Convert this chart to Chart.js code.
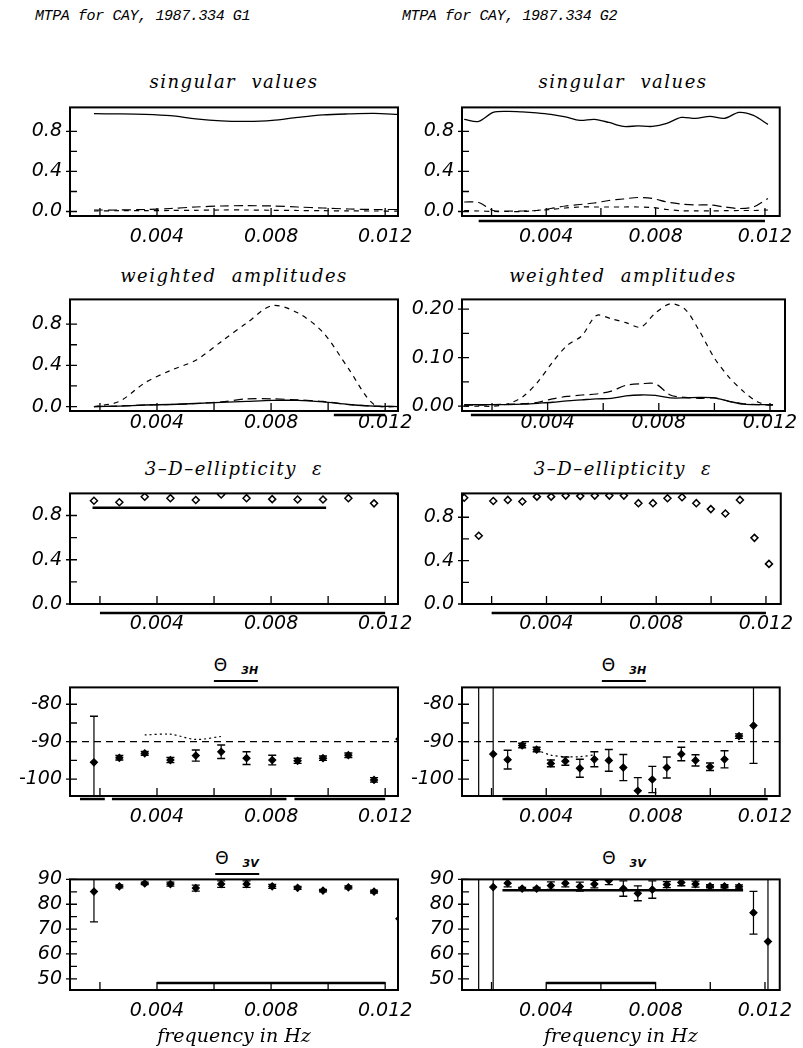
<!DOCTYPE html>
<html>
<head>
<meta charset="utf-8">
<title>MTPA for CAY, 1987.334</title>
<script src="https://cdn.jsdelivr.net/npm/chart.js@4.4.1/dist/chart.umd.min.js"></script>
<style>
  html, body { margin: 0; padding: 0; background: #fff; }
  body { position: relative; width: 803px; height: 1048px; overflow: hidden; }
  .head { position: absolute; top: 8px; font: italic 15px "Liberation Mono", monospace; letter-spacing: -0.4px; line-height: 18px; white-space: pre; }
  .ttl { position: absolute; transform: translateX(-50%); white-space: nowrap;
         font: italic 18px "DejaVu Serif", serif; letter-spacing: 1.5px; word-spacing: 8px; line-height: 20px; }
  .theta { font: 17px "DejaVu Sans", sans-serif; letter-spacing: 0; word-spacing: 0; line-height: 16px; }
  .theta sub { font: italic bold 11px "DejaVu Sans", sans-serif; margin-left: 14px; vertical-align: -3px; }
  .ul { border-bottom: 2.5px solid #000; padding-bottom: 3px; }
  .box { position: absolute; }
</style>
</head>
<body>

<div class="head" style="left:35px">MTPA for CAY, 1987.334 G1</div>
<div class="head" style="left:402px">MTPA for CAY, 1987.334 G2</div>

<div class="ttl" style="left:234px;top:72px">singular values</div>
<div class="ttl" style="left:623px;top:72px">singular values</div>
<div class="ttl" style="left:234px;top:266px">weighted amplitudes</div>
<div class="ttl" style="left:623px;top:266px">weighted amplitudes</div>
<div class="ttl" style="left:234px;top:459px">3–D–ellipticity ε</div>
<div class="ttl" style="left:623px;top:459px">3–D–ellipticity ε</div>
<div class="ttl theta ul" style="left:236px;top:657px">Θ<sub>3H</sub></div>
<div class="ttl theta ul" style="left:624px;top:657px">Θ<sub>3H</sub></div>
<div class="ttl theta ul" style="left:237px;top:850px">Θ<sub>3V</sub></div>
<div class="ttl theta" style="left:624px;top:850px">Θ<sub>3V</sub></div>

<script>
// frequencies of the estimates
const freqG1 = [0.00179, 0.00268, 0.00357, 0.00447, 0.00536, 0.00625, 0.00714,
                0.00804, 0.00893, 0.00982, 0.01071, 0.01161, 0.01250];
const freqG2 = [0.00100, 0.00153, 0.00206, 0.00259, 0.00312, 0.00365, 0.00417, 0.00470,
                0.00523, 0.00576, 0.00629, 0.00682, 0.00735, 0.00788, 0.00841, 0.00894,
                0.00946, 0.00999, 0.01052, 0.01105, 0.01158, 0.01211];

const xTicks = [0.002, 0.004, 0.006, 0.008, 0.010, 0.012];
const xLabels = [0.004, 0.008, 0.012];
const yTicksUnit = [0, 0.2, 0.4, 0.6, 0.8];
const yLabelsUnit = [0, 0.4, 0.8];
const yTicksSmall = [0, 0.05, 0.10, 0.15, 0.20];
const yLabelsSmall = [0, 0.10, 0.20];
const yTicks3H = [-100, -95, -90, -85, -80];
const yLabels3H = [-100, -90, -80];
const yTicks3V = [50, 55, 60, 65, 70, 75, 80, 85, 90];
const yLabels3V = [50, 60, 70, 80, 90];

// singular values
const sv1G1 = [0.977, 0.975, 0.970, 0.957, 0.925, 0.905, 0.900, 0.910, 0.940, 0.965, 0.975, 0.980, 0.970];
const sv2G1 = [0.015, 0.015, 0.020, 0.030, 0.045, 0.055, 0.058, 0.055, 0.045, 0.035, 0.025, 0.020, 0.020];
const sv3G1 = [0.005, 0.008, 0.008, 0.010, 0.012, 0.015, 0.015, 0.012, 0.010, 0.008, 0.006, 0.005, 0.004];
const sv1G2 = [0.92, 0.90, 0.99, 1.00, 0.995, 0.985, 0.97, 0.945, 0.91, 0.92, 0.89,
               0.85, 0.855, 0.85, 0.88, 0.94, 0.93, 0.95, 0.93, 0.99, 0.96, 0.87];
const sv2G2 = [0.095, 0.090, 0.010, 0.005, 0.005, 0.010, 0.030, 0.055, 0.070, 0.085, 0.110,
               0.125, 0.140, 0.130, 0.095, 0.075, 0.065, 0.065, 0.045, 0.030, 0.045, 0.130];
const sv3G2 = [0.010, 0.005, 0.000, 0.000, 0.000, 0.010, 0.020, 0.035, 0.045, 0.045, 0.045,
               0.045, 0.045, 0.040, 0.020, 0.008, 0.006, 0.006, 0.008, 0.010, 0.010, 0.015];

// weighted amplitudes
const amp1G1 = [0.000, 0.005, 0.015, 0.020, 0.030, 0.040, 0.050, 0.060, 0.060, 0.045, 0.020, 0.005, 0.000];
const amp2G1 = [0.000, 0.005, 0.015, 0.020, 0.030, 0.045, 0.075, 0.075, 0.065, 0.050, 0.020, 0.005, 0.000];
const amp3G1 = [0.000, 0.050, 0.230, 0.350, 0.450, 0.630, 0.810, 0.980, 0.910, 0.720, 0.370, 0.020, 0.000];
const amp1G2 = [0.003, 0.003, 0.003, 0.003, 0.004, 0.006, 0.008, 0.011, 0.013, 0.015, 0.016,
                0.021, 0.023, 0.022, 0.017, 0.017, 0.018, 0.017, 0.010, 0.004, 0.003, 0.003];
const amp2G2 = [0.002, 0.002, 0.003, 0.004, 0.005, 0.008, 0.015, 0.020, 0.023, 0.025, 0.031,
                0.043, 0.046, 0.046, 0.023, 0.018, 0.016, 0.017, 0.010, 0.005, 0.003, 0.002];
const amp3G2 = [0.000, 0.000, 0.000, 0.005, 0.020, 0.050, 0.090, 0.125, 0.145, 0.187, 0.180,
                0.172, 0.163, 0.192, 0.211, 0.200, 0.155, 0.100, 0.060, 0.030, 0.008, 0.001];

// 3-D ellipticity
const ellG1 = [0.933, 0.920, 0.970, 0.957, 0.940, 0.990, 0.957, 0.948, 0.945, 0.945, 0.957, 0.910, 1.000];
const ellG2 = [0.98, 0.63, 0.95, 0.96, 0.945, 0.99, 0.99, 1.00, 0.995, 1.00, 1.00,
               1.00, 0.93, 0.93, 0.975, 0.985, 0.93, 0.875, 0.835, 0.96, 0.61, 0.37];
const ellLevelG1 = {from: 0.00174, to: 0.00993, value: 0.87};

// theta 3H (degrees) with error limits
const th3hG1   = [-95.5, -94.3, -93.1, -94.9, -93.7, -92.7, -94.4, -94.9, -95.1, -94.4, -93.6, -100.2, -89.3];
const th3hG1Lo = [-110, -94.9, -93.6, -95.6, -95.2, -94.5, -96.1, -96.2, -95.8, -95.0, -94.2, -100.8, null];
const th3hG1Hi = [-83.2, -93.7, -92.6, -94.2, -92.2, -90.9, -92.7, -93.6, -94.4, -93.8, -93.0, -99.6, null];
const th3hG1Dot = [null, null, -88.2, -88.0, -89.4, -88.6, null, null, null, null, null, null, null];
const th3hG2   = [null, null, -93.3, -94.8, -91.0, -92.1, -95.8, -95.2, -97.1, -94.7, -95.0,
                  -96.9, -103.1, -100.1, -96.9, -93.3, -95.0, -96.7, -94.7, -88.5, -85.7, null];
const th3hG2Lo = [null, -130, -130, -97.3, -91.6, -92.7, -96.7, -96.3, -99.5, -96.7, -97.9,
                  -100.4, -106.6, -103.6, -99.7, -95.1, -96.5, -97.7, -97.0, -89.1, -95.8, null];
const th3hG2Hi = [null, -50, -50, -92.3, -90.4, -91.5, -94.9, -94.1, -94.7, -92.7, -92.1,
                  -93.4, -99.6, -96.6, -94.1, -91.5, -93.5, -95.7, -92.4, -87.9, -65, null];
const th3hG2Dot = [null, null, null, null, null, -92.2, -93.6, -94.0, -94.0, -93.5, null,
                   null, null, null, null, null, null, null, null, null, null, null];
const th3hRef = -90;

// theta 3V (degrees) with error limits
const th3vG1   = [85.1, 87.2, 88.4, 88.1, 86.5, 88.1, 88.1, 87.2, 86.6, 85.5, 86.8, 85.1, 74.2];
const th3vG1Lo = [72.9, 86.6, 87.9, 87.3, 85.3, 86.8, 86.8, 86.4, 86.0, 85.0, 86.2, 84.5, null];
const th3vG1Hi = [97.0, 87.8, 88.9, 88.9, 87.7, 89.4, 89.4, 88.0, 87.2, 86.0, 87.4, 85.7, null];
const th3vG2   = [null, null, 86.9, 88.5, 86.3, 86.3, 87.5, 88.5, 87.1, 88.1, 89.6,
                  86.3, 84.4, 85.9, 87.9, 88.75, 88.1, 87.25, 87.25, 87.0, 76.6, 65.0];
const th3vG2Lo = [null, 20, 20, 87.0, 85.8, 85.8, 86.0, 87.0, 85.3, 86.6, 87.9,
                  83.2, 81.4, 82.4, 86.7, 87.45, 86.9, 86.65, 86.65, 86.2, 68.0, 20];
const th3vG2Hi = [null, 100, 100, 90.0, 86.8, 86.8, 89.0, 90.0, 88.9, 89.6, 91.3,
                  89.4, 87.4, 89.4, 89.1, 90.05, 89.3, 87.85, 87.85, 87.8, 85.2, 100];
const th3vLevelG1 = {from: 0.004, to: 0.012, value: 48.3};
const th3vLevelG2 = {from: 0.004, to: 0.008, value: 48.3};
const th3vMeanG2  = {from: 0.0024, to: 0.0112, value: 85.6};

// frequency bands marked under the axes
const bandSvG2  = [[0.00153, 0.01200]];
const bandAmpG1 = [[0.01020, 0.01200]];
const bandAmpG2 = [[0.00124, 0.01200]];
const bandEllG1 = [[0.00200, 0.01200]];
const bandEllG2 = [[0.00200, 0.01200]];
const band3HG1  = [[0.00130, 0.00217], [0.00242, 0.00854], [0.00882, 0.01200]];
const band3HG2  = [[0.00240, 0.01210]];


Chart.defaults.color = '#000';
Chart.defaults.font.family = '"DejaVu Sans", sans-serif';

const tickFont = {family: '"DejaVu Sans", sans-serif', size: 19, style: 'italic'};

const cols = [
    {left: 70, right: 398, xMin: 0.00095, xMax: 0.01245},
    {left: 462, right: 785, xMin: 0.00092, xMax: 0.01254}
];
const rows = [
    {top: 102, bottom: 216, pad: 10},
    {top: 294, bottom: 411, pad: 1},
    {top: 488, bottom: 604, pad: 9},
    {top: 682, bottom: 796, pad: 10},
    {top: 874, bottom: 990, pad: 10}
];

// box around the plot, inner ticks and the band marks under the axis
const framePlugin = {
    id: 'frame',
    afterDatasetsDraw(chart, args, opts) {
        const {ctx, chartArea: a, scales: {x, y}} = chart;
        ctx.save();
        ctx.strokeStyle = '#000';
        ctx.lineWidth = 2;
        ctx.strokeRect(a.left, a.top, a.width, a.height);
        ctx.lineWidth = 1.3;
        ctx.beginPath();
        x.ticks.forEach(t => {
            const px = x.getPixelForValue(t.value);
            ctx.moveTo(px, a.bottom);
            ctx.lineTo(px, a.bottom - 8);
        });
        y.ticks.forEach(t => {
            const py = y.getPixelForValue(t.value);
            ctx.moveTo(a.left - (t.label ? 4 : 0), py);
            ctx.lineTo(a.left + 7, py);
        });
        ctx.stroke();
        if (opts.bands) {
            ctx.lineWidth = 2.5;
            ctx.beginPath();
            opts.bands.forEach(([f0, f1]) => {
                const yy = a.bottom + opts.gap;
                ctx.moveTo(x.getPixelForValue(f0), yy);
                ctx.lineTo(x.getPixelForValue(f1), yy);
            });
            ctx.stroke();
        }
        ctx.restore();
    }
};

function curve(xs, ys, dash, width) {
    return {
        type: 'line',
        data: xs.map((x, i) => ({x: x, y: ys[i]})),
        borderColor: '#000',
        borderWidth: width || 1.2,
        borderDash: dash || [],
        pointRadius: 0,
        tension: 0.3,
        fill: false
    };
}

function marks(xs, ys, filled, r) {
    return {
        type: 'scatter',
        data: xs.map((x, i) => ({x: x, y: ys[i]})),
        pointStyle: 'rectRot',
        pointRadius: r,
        backgroundColor: filled ? '#000' : '#fff',
        borderColor: '#000',
        borderWidth: filled ? 1.2 : 1.5
    };
}

function errorBars(xs, lo, hi) {
    const stems = [], caps = [];
    xs.forEach((x, i) => {
        if (lo[i] === null) return;
        stems.push({x: x, y: lo[i]}, {x: x, y: hi[i]}, {x: x, y: null});
        caps.push({x: x, y: lo[i]}, {x: x, y: hi[i]});
    });
    return [
        {type: 'line', data: stems, borderColor: '#000', borderWidth: 1.2, pointRadius: 0, tension: 0, spanGaps: false},
        {type: 'scatter', data: caps, pointStyle: 'line', pointRadius: 4, borderColor: '#000', borderWidth: 1.4}
    ];
}

function level(lv, width) {
    return {
        type: 'line',
        data: [{x: lv.from, y: lv.value}, {x: lv.to, y: lv.value}],
        borderColor: '#000', borderWidth: width, pointRadius: 0
    };
}

function refLine(col, value) {
    const c = cols[col];
    return {
        type: 'line',
        data: [{x: c.xMin, y: value}, {x: c.xMax, y: value}],
        borderColor: '#000', borderWidth: 1.2, borderDash: [7, 5], pointRadius: 0
    };
}

function addPanel(col, row, yAxis, datasets, frame, xTitle) {
    const c = cols[col], r = rows[row];
    const left = c.left - 70;
    const top = r.top - 14;
    const width = col === 0 ? 430 : 803 - left;
    const xh = xTitle ? 58 : 40;
    const height = r.bottom - r.top + 14 + xh;

    const box = document.createElement('div');
    box.className = 'box';
    box.style.left = left + 'px';
    box.style.top = top + 'px';
    box.style.width = width + 'px';
    box.style.height = height + 'px';
    const canvas = document.createElement('canvas');
    box.appendChild(canvas);
    document.body.appendChild(box);

    new Chart(canvas, {
        type: 'scatter',
        data: {datasets: datasets},
        options: {
            responsive: true,
            maintainAspectRatio: false,
            animation: false,
            events: [],
            layout: {padding: {top: 14, left: 0, bottom: 0, right: width - (c.right - left)}},
            plugins: {
                legend: {display: false},
                tooltip: {enabled: false},
                frame: frame || {}
            },
            scales: {
                x: {
                    type: 'linear',
                    min: c.xMin,
                    max: c.xMax,
                    grid: {display: false, drawTicks: false},
                    border: {display: false},
                    afterBuildTicks: s => { s.ticks = xTicks.map(v => ({value: v})); },
                    afterFit: s => { s.height = xh; },
                    ticks: {
                        padding: r.pad,
                        autoSkip: false,
                        maxRotation: 0,
                        font: tickFont,
                        callback: v => xLabels.includes(v) ? v.toFixed(3) : ''
                    },
                    title: {
                        display: !!xTitle,
                        text: xTitle || '',
                        padding: 0,
                        font: {family: '"DejaVu Serif", serif', size: 19, style: 'italic'}
                    }
                },
                y: {
                    type: 'linear',
                    min: yAxis.min,
                    max: yAxis.max,
                    grid: {display: false, drawTicks: false},
                    border: {display: false},
                    afterBuildTicks: s => { s.ticks = yAxis.ticks.map(v => ({value: v})); },
                    afterFit: s => { s.width = 70; },
                    ticks: {
                        padding: 8,
                        autoSkip: false,
                        font: tickFont,
                        callback: v => yAxis.labels.includes(v) ? v.toFixed(yAxis.digits) : ''
                    }
                }
            }
        },
        plugins: [framePlugin]
    });
}

const ySv = {min: -0.045, max: 1.04, ticks: yTicksUnit, labels: yLabelsUnit, digits: 1};

// row 1: singular values
addPanel(0, 0, ySv, [
    curve(freqG1, sv1G1, [], 1.3),
    curve(freqG1, sv2G1, [9, 5]),
    curve(freqG1, sv3G1, [5, 5])
]);
addPanel(1, 0, ySv, [
    curve(freqG2, sv1G2, [], 1.3),
    curve(freqG2, sv2G2, [9, 5]),
    curve(freqG2, sv3G2, [5, 5])
], {bands: bandSvG2, gap: 5});

// row 2: weighted amplitudes
addPanel(0, 1, {min: -0.043, max: 1.04, ticks: yTicksUnit, labels: yLabelsUnit, digits: 1}, [
    curve(freqG1, amp1G1, [], 1.3),
    curve(freqG1, amp2G1, [9, 5]),
    curve(freqG1, amp3G1, [5, 5])
], {bands: bandAmpG1, gap: 4});
addPanel(1, 1, {min: -0.01, max: 0.22, ticks: yTicksSmall, labels: yLabelsSmall, digits: 2}, [
    curve(freqG2, amp1G2, [], 1.3),
    curve(freqG2, amp2G2, [9, 5]),
    curve(freqG2, amp3G2, [5, 5])
], {bands: bandAmpG2, gap: 4});

// row 3: 3-D ellipticity
addPanel(0, 2, {min: 0, max: 1.0, ticks: yTicksUnit, labels: yLabelsUnit, digits: 1}, [
    marks(freqG1, ellG1, false, 3.5),
    level(ellLevelG1, 2.5)
], {bands: bandEllG1, gap: 9});
addPanel(1, 2, {min: 0, max: 1.02, ticks: yTicksUnit, labels: yLabelsUnit, digits: 1}, [
    marks(freqG2, ellG2, false, 3.5)
], {bands: bandEllG2, gap: 9});

// row 4: theta 3H
const y3H = {min: -104.5, max: -75.5, ticks: yTicks3H, labels: yLabels3H, digits: 0};
addPanel(0, 3, y3H, [
    marks(freqG1, th3hG1, true, 3.5),
    ...errorBars(freqG1, th3hG1Lo, th3hG1Hi),
    curve(freqG1, th3hG1Dot, [2, 3]),
    refLine(0, th3hRef)
], {bands: band3HG1, gap: 3});
addPanel(1, 3, y3H, [
    marks(freqG2, th3hG2, true, 3.5),
    ...errorBars(freqG2, th3hG2Lo, th3hG2Hi),
    curve(freqG2, th3hG2Dot, [2, 3]),
    refLine(1, th3hRef)
], {bands: band3HG2, gap: 3});

// row 5: theta 3V
const y3V = {min: 45.5, max: 90, ticks: yTicks3V, labels: yLabels3V, digits: 0};
addPanel(0, 4, y3V, [
    marks(freqG1, th3vG1, true, 3.5),
    ...errorBars(freqG1, th3vG1Lo, th3vG1Hi),
    level(th3vLevelG1, 2.5)
], null, 'frequency in Hz');
addPanel(1, 4, y3V, [
    marks(freqG2, th3vG2, true, 3.5),
    ...errorBars(freqG2, th3vG2Lo, th3vG2Hi),
    level(th3vLevelG2, 2.5),
    level(th3vMeanG2, 2.5)
], null, 'frequency in Hz');
</script>
</body>
</html>
